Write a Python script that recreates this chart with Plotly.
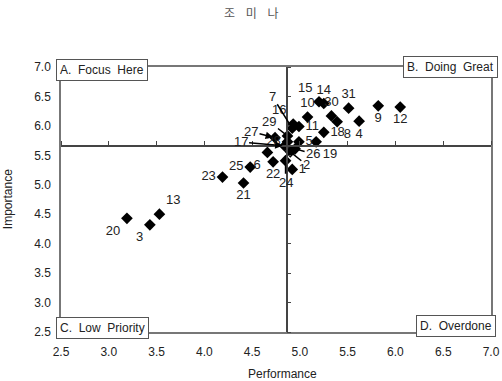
import plotly.graph_objects as go

# ---- data ----
labels = [str(i) for i in range(1, 32)]
performance = [4.92, 4.90, 3.43, 5.62, 4.99, 4.66, 4.92, 5.39, 5.82, 5.08,
               4.99, 6.05, 3.53, 5.25, 5.20, 4.93, 4.84, 5.25, 5.17, 3.19,
               4.41, 4.72, 4.19, 4.85, 4.48, 4.95, 4.74, 4.87, 4.87, 5.33, 5.51]
importance = [5.26, 5.56, 4.32, 6.08, 5.73, 5.55, 5.96, 6.07, 6.34, 6.15,
              5.99, 6.32, 4.50, 6.38, 6.41, 6.03, 5.66, 5.89, 5.73, 4.43,
              5.03, 5.39, 5.13, 5.41, 5.30, 5.61, 5.80, 5.73, 5.83, 6.17, 6.30]
x_cross = 4.86
y_cross = 5.66
quadrant_text = ["A.  Focus  Here", "B.  Doing  Great", "C.  Low  Priority", "D.  Overdone"]
title_text = "조    미    나"
x_title = "Performance"
y_title = "Importance"

# ---- style: label placement ----
text_pos = {
    "1": "middle right", "3": "bottom left", "4": "bottom center", "5": "middle right",
    "6": "bottom left", "8": "bottom right", "9": "bottom center", "10": "top center",
    "11": "middle right", "12": "bottom center", "13": "top right", "14": "top center",
    "15": "top left", "16": "top left", "18": "middle right", "19": "bottom right",
    "20": "bottom left", "21": "bottom center", "22": "bottom center", "23": "middle left",
    "25": "middle left", "28": "middle left", "30": "top center", "31": "top center",
}
arrow_labels = {  # label: (ax, ay, arrowhead)
    "2": (16, 13, 0), "7": (-20, -32, 0), "17": (-44, -4, 2), "24": (0, 22, 0),
    "26": (18, 5, 0), "27": (-24, -6, 2), "29": (-18, -14, 0),
}

font_main = "Liberation Sans, Arial, sans-serif"

texts = [("" if l in arrow_labels else l) for l in labels]
positions = [text_pos.get(l, "middle right") for l in labels]

fig = go.Figure()
fig.add_trace(go.Scatter(
    x=performance, y=importance, mode="markers+text",
    text=texts, textposition=positions,
    textfont=dict(family=font_main, size=13, color="#222"),
    marker=dict(symbol="diamond", size=9, color="black"),
    hoverinfo="skip", showlegend=False,
))
# empty trace to activate the crossing axes
fig.add_trace(go.Scatter(x=[], y=[], xaxis="x2", yaxis="y2", showlegend=False, hoverinfo="skip"))

annotations = []
for l, (ax, ay, ah) in arrow_labels.items():
    i = labels.index(l)
    annotations.append(dict(
        x=performance[i], y=importance[i], xref="x", yref="y",
        text=l, showarrow=True, ax=ax, ay=ay, arrowhead=ah, arrowsize=1,
        arrowwidth=1.5, arrowcolor="black", standoff=2,
        font=dict(family=font_main, size=13, color="#222"),
    ))

# quadrant boxes
box_style = dict(showarrow=False, bgcolor="white", bordercolor="#555", borderwidth=1,
                 borderpad=3, font=dict(family=font_main, size=12, color="#222"))
annotations += [
    dict(text=quadrant_text[0], xref="paper", yref="paper", x=-0.012, y=1.03,
         xanchor="left", yanchor="top", **box_style),
    dict(text=quadrant_text[1], xref="paper", yref="paper", x=1.017, y=1.04,
         xanchor="right", yanchor="top", **box_style),
    dict(text=quadrant_text[2], xref="paper", yref="paper", x=-0.012, y=-0.027,
         xanchor="left", yanchor="bottom", **box_style),
    dict(text=quadrant_text[3], xref="paper", yref="paper", x=1.011, y=-0.018,
         xanchor="right", yanchor="bottom", **box_style),
]
# titles
annotations += [
    dict(text=title_text, xref="paper", yref="paper", x=0.444, y=1.206, showarrow=False,
         xanchor="center", yanchor="middle",
         font=dict(family="Noto Sans CJK KR", size=12, color="#555")),
    dict(text=x_title, xref="paper", yref="paper", x=0.516, y=-0.158, showarrow=False,
         xanchor="center", yanchor="middle", font=dict(family=font_main, size=12, color="#222")),
    dict(text=y_title, xref="paper", yref="paper", x=-0.124, y=0.5, showarrow=False,
         textangle=-90, xanchor="center", yanchor="middle",
         font=dict(family=font_main, size=12, color="#222")),
]

rng = [2.5, 7.0]
fig.update_layout(
    width=502, height=381,
    margin=dict(l=61, r=11, t=67, b=49, autoexpand=False),
    paper_bgcolor="white", plot_bgcolor="white",
    xaxis=dict(range=rng, dtick=0.5, tick0=2.5, tickformat=".1f", showgrid=False,
               zeroline=False, showline=True, mirror=True, linecolor="#777", linewidth=1.5,
               ticks="", ticklabelstandoff=8,
               tickfont=dict(family=font_main, size=12, color="#222")),
    yaxis=dict(range=rng, dtick=0.5, tick0=2.5, tickformat=".1f", showgrid=False,
               zeroline=False, showline=True, mirror=True, linecolor="#777", linewidth=1.5,
               ticks="", ticklabelstandoff=6,
               tickfont=dict(family=font_main, size=12, color="#222")),
    xaxis2=dict(overlaying="x", matches="x", anchor="free",
                position=(y_cross - rng[0]) / (rng[1] - rng[0]), side="top",
                showline=True, linecolor="#444", linewidth=1.5, ticks="outside",
                ticklen=4, tickcolor="#444", dtick=0.5, tick0=2.5,
                showticklabels=False, showgrid=False, zeroline=False),
    yaxis2=dict(overlaying="y", matches="y", anchor="free",
                position=(x_cross - rng[0]) / (rng[1] - rng[0]), side="right",
                showline=True, linecolor="#444", linewidth=1.5, ticks="outside",
                ticklen=4, tickcolor="#444", dtick=0.5, tick0=2.5,
                showticklabels=False, showgrid=False, zeroline=False),
    annotations=annotations,
)

fig.write_html("out.html")
